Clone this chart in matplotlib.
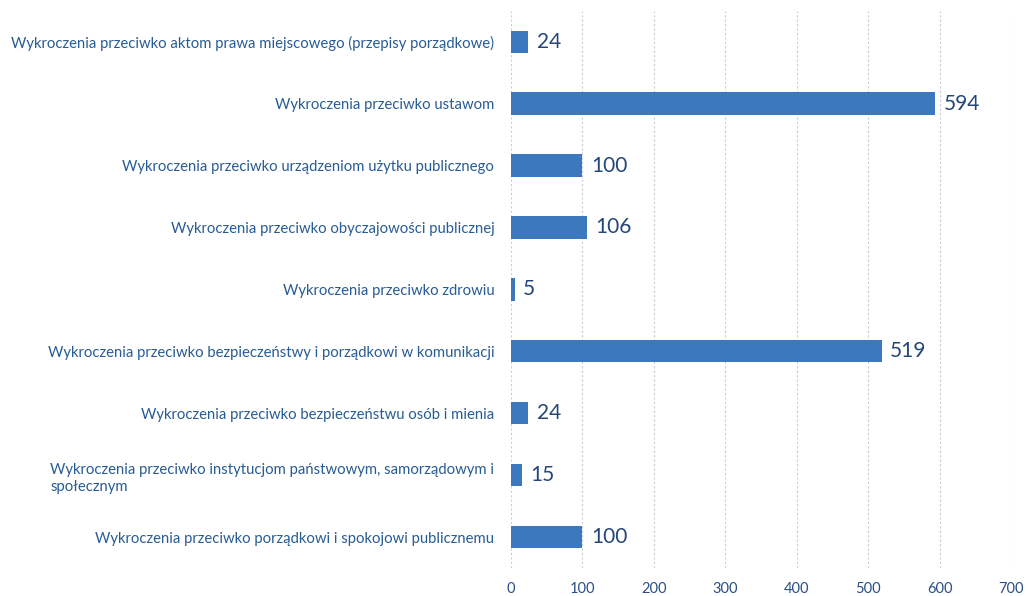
import matplotlib.pyplot as plt

categories = [
    "Wykroczenia przeciwko aktom prawa miejscowego (przepisy porządkowe)",
    "Wykroczenia przeciwko ustawom",
    "Wykroczenia przeciwko urządzeniom użytku publicznego",
    "Wykroczenia przeciwko obyczajowości publicznej",
    "Wykroczenia przeciwko zdrowiu",
    "Wykroczenia przeciwko bezpieczeństwy i porządkowi w komunikacji",
    "Wykroczenia przeciwko bezpieczeństwu osób i mienia",
    "Wykroczenia przeciwko instytucjom państwowym, samorządowym i\nspołecznym",
    "Wykroczenia przeciwko porządkowi i spokojowi publicznemu",
]
values = [24, 594, 100, 106, 5, 519, 24, 15, 100]
x_ticks = [0, 100, 200, 300, 400, 500, 600, 700]

plt.rcParams["font.family"] = ["Lato", "DejaVu Sans"]

fig = plt.figure(figsize=(10.29, 5.96), dpi=100)
ax = fig.add_axes([0.4966, 0.047, 0.4859, 0.935])

pos = list(range(len(categories)))
ax.barh(pos, values, height=0.36, color="#3b78be", zorder=3)
for p, v in zip(pos, values):
    ax.text(v + 12, p, str(v), va="center", ha="left", fontsize=15, color="#24477a")

ax.set_ylim(len(categories) - 0.5, -0.5)
ax.set_xlim(0, 700)
ax.set_xticks(x_ticks)
ax.set_yticks(pos)
ax.set_yticklabels(categories, fontsize=10.7, color="#285c94", linespacing=1.3)
for lbl in ax.get_yticklabels():
    lbl.set_multialignment("left")
ax.tick_params(axis="x", labelsize=10.5, labelcolor="#2a4f85", length=0, pad=10)
ax.tick_params(axis="y", length=0, pad=12)
ax.grid(axis="x", color="#c8ccd4", linestyle=(0, (2, 2)), linewidth=0.8, zorder=0)
ax.grid(axis="y", visible=False)
for s in ax.spines.values():
    s.set_visible(False)

fig.savefig("out.png", dpi=100)
